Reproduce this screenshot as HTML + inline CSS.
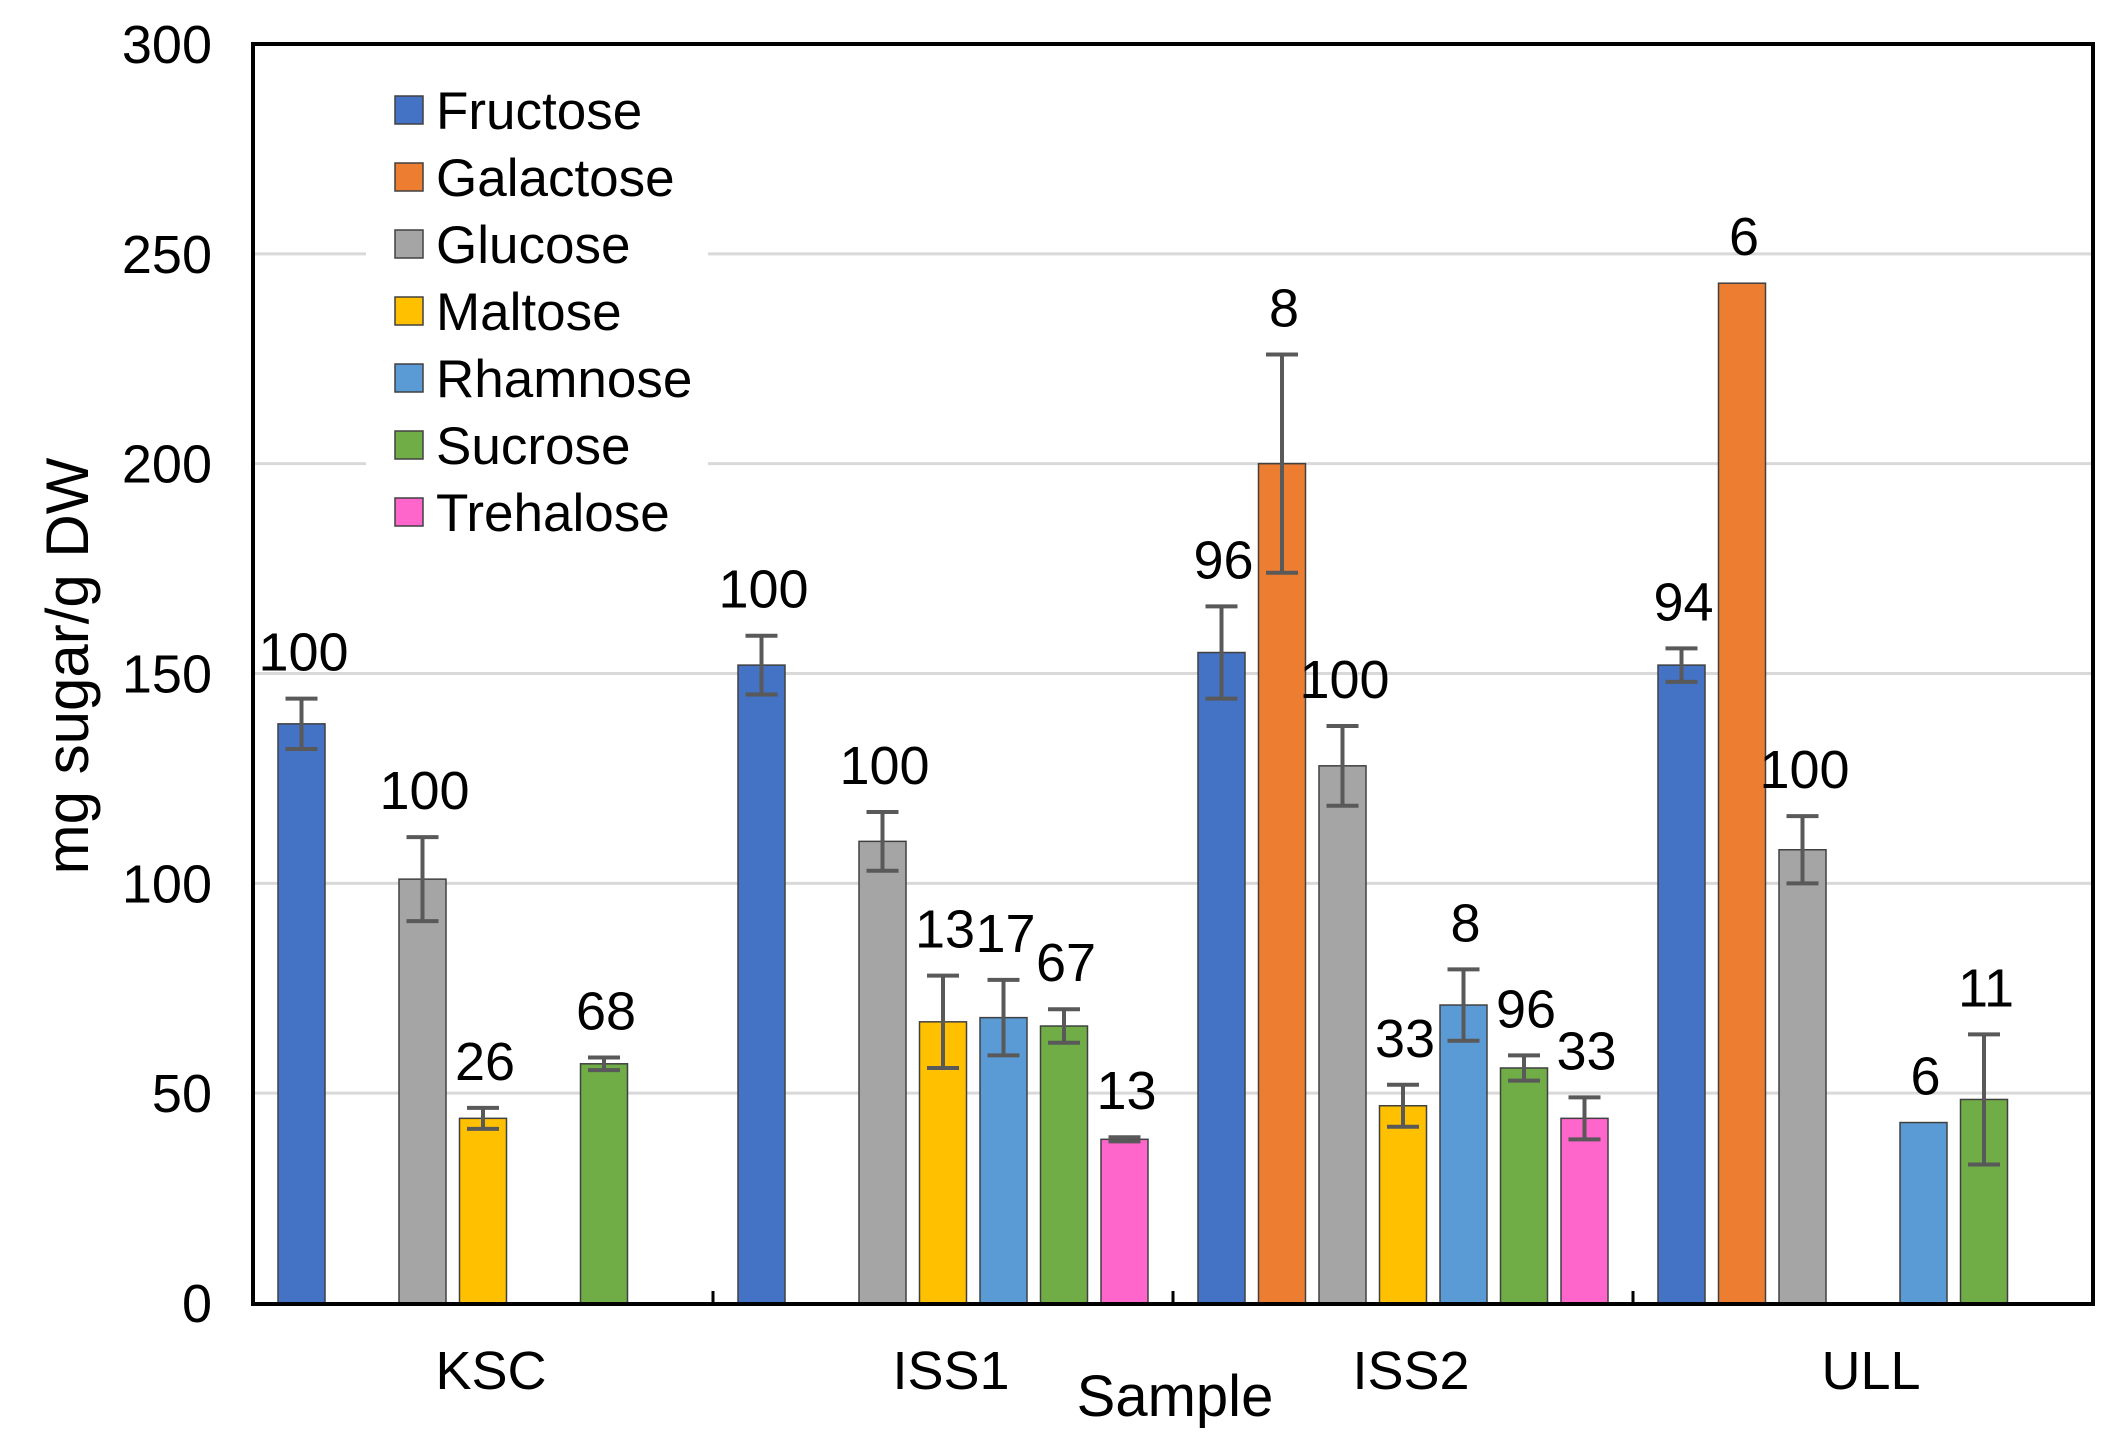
<!DOCTYPE html>
<html><head><meta charset="utf-8"><style>
html,body{margin:0;padding:0;background:#fff;}
svg text{font-family:"Liberation Sans",sans-serif;}
</style></head><body>
<svg id="chart" width="2111" height="1442" viewBox="0 0 2111 1442" xmlns="http://www.w3.org/2000/svg">
<g id="grid"></g>
<g id="yticks"></g>
<g id="bars"></g>
<g id="legend"></g>
<rect x="253" y="44" width="1840" height="1260" fill="none" stroke="#000" stroke-width="4"/>
<g id="xlabels"></g>
<text x="0" y="0" transform="translate(88,666) rotate(-90)" text-anchor="middle" font-size="60">mg sugar/g DW</text>
<text x="1175" y="1416" text-anchor="middle" font-size="58">Sample</text>
</svg>
<script>
const categories = ["KSC","ISS1","ISS2","ULL"];
const series = ["Fructose","Galactose","Glucose","Maltose","Rhamnose","Sucrose","Trehalose"];
const colors = ["#4472C4","#ED7D31","#A5A5A5","#FFC000","#5B9BD5","#70AD47","#FF66CC"];
const fructose = [138,152,155,152];
const galactose = [null,null,200,243];
const glucose = [101,110,128,108];
const maltose = [44,67,47,null];
const rhamnose = [null,68,71,43];
const sucrose = [57,66,56,48.5];
const trehalose = [null,39,44,null];
const errFructose = [6,7,11,4];
const errGalactose = [0,0,26,0];
const errGlucose = [10,7,9.5,8];
const errMaltose = [2.5,11,5,0];
const errRhamnose = [0,9,8.5,0];
const errSucrose = [1.5,4,3,15.5];
const errTrehalose = [0,0.5,5,0];
const lblFructose = ["100","100","96","94"];
const lblGalactose = ["","","8","6"];
const lblGlucose = ["100","100","100","100"];
const lblMaltose = ["26","13","33",""];
const lblRhamnose = ["","17","8","6"];
const lblSucrose = ["68","67","96","11"];
const lblTrehalose = ["","13","33",""];
const yTicks = [0,50,100,150,200,250,300];

const values=[fructose,galactose,glucose,maltose,rhamnose,sucrose,trehalose];
const errs=[errFructose,errGalactose,errGlucose,errMaltose,errRhamnose,errSucrose,errTrehalose];
const lbls=[lblFructose,lblGalactose,lblGlucose,lblMaltose,lblRhamnose,lblSucrose,lblTrehalose];
const NS="http://www.w3.org/2000/svg";
const X0=253,X1=2093,Y0=1303,Y1=44,YMAX=300;
const y=v=>Y0-(v/YMAX)*(Y0-Y1);
const gw=(X1-X0)/categories.length;
const gc=i=>X0+gw*(i+0.5);
const slot=60.5,bw=47;
function mk(tag,attrs,parent){const e=document.createElementNS(NS,tag);for(const k in attrs)e.setAttribute(k,attrs[k]);parent.appendChild(e);return e;}
const grid=document.getElementById('grid'),yt=document.getElementById('yticks'),bars=document.getElementById('bars'),leg=document.getElementById('legend'),xl=document.getElementById('xlabels');
yTicks.forEach(t=>{
  if(t>0&&t<YMAX){const l=mk('line',{x1:X0,x2:X1,y1:y(t),y2:y(t),stroke:'#d9d9d9','stroke-width':3},grid);
  
  }
  const tx=mk('text',{x:212,y:y(t)+19,'text-anchor':'end','font-size':54},yt);tx.textContent=t;
  
  
});
categories.forEach((c,i)=>{
  if(i>0){const tk=mk('line',{x1:X0+gw*i,x2:X0+gw*i,y1:Y0,y2:Y0-12,stroke:'#000','stroke-width':3},xl);
  
  }
  const t=mk('text',{x:gc(i)+8,y:1389,'text-anchor':'middle','font-size':54},xl);t.textContent=c;
  
  
  series.forEach((s,j)=>{
    const v=values[j][i];if(v==null)return;
    const cx=gc(i)+(j-3)*slot;
    const r=mk('rect',{x:cx-bw/2,y:y(v),width:bw,height:Y0-y(v),fill:colors[j],stroke:'#404040','stroke-width':1.5},bars);
    
    
    const e=errs[j][i];
    if(e>0){const g=mk('g',{stroke:'#595959','stroke-width':4},bars);
      
      
      mk('line',{x1:cx,x2:cx,y1:y(v+e),y2:y(v-e)},g);
      mk('line',{x1:cx-16,x2:cx+16,y1:y(v+e),y2:y(v+e)},g);
      mk('line',{x1:cx-16,x2:cx+16,y1:y(v-e),y2:y(v-e)},g);}
    if(lbls[j][i]){const t2=mk('text',{x:cx+2,y:y(v+e)-28,'text-anchor':'middle','font-size':54},bars);t2.textContent=lbls[j][i];
      
      }
  });
});
const bg=mk('rect',{x:366,y:80,width:342,height:460,fill:'#fff'},leg);


series.forEach((s,j)=>{
  const cy=110+j*67;
  const g=mk('g',{},leg);
  
  
  mk('rect',{x:395,y:cy-14,width:28,height:28,fill:colors[j],stroke:'#404040','stroke-width':1.5},g);
  const t=mk('text',{x:436,y:cy+19,'font-size':53},g);t.textContent=s;
});
</script>
</body></html>
